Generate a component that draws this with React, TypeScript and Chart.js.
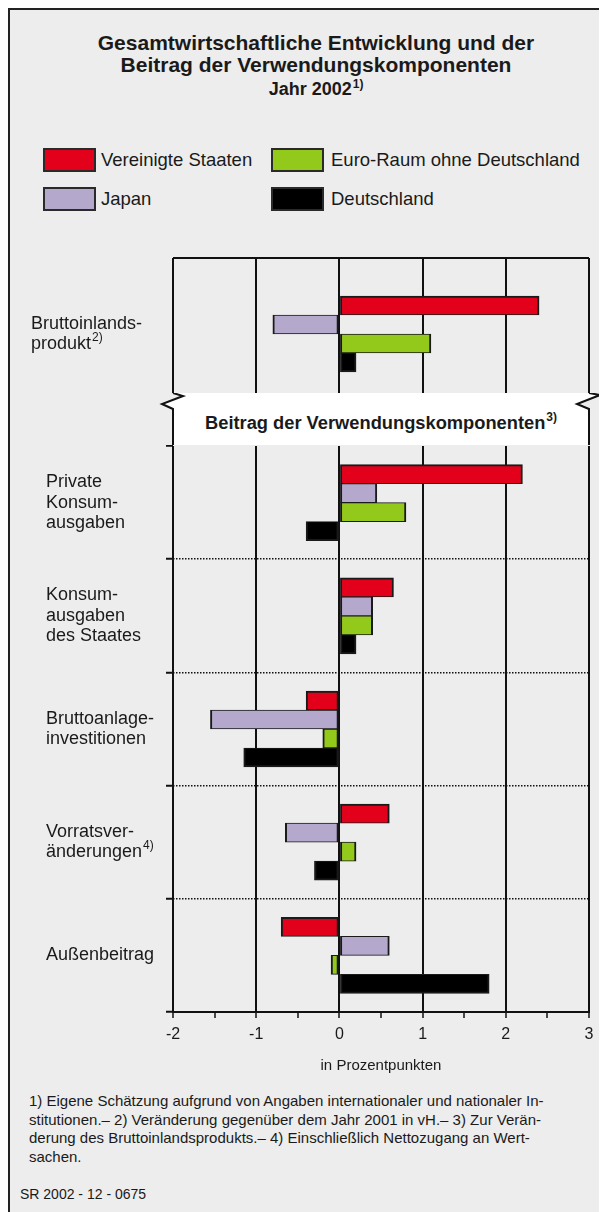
import React, { useEffect, useRef } from "react";
import { Chart, registerables } from "chart.js";

Chart.register(...registerables);

const FONT = '"Liberation Sans", Arial, Helvetica, sans-serif';
const TEXT = "#1a1a1a";
const LINE = "#111111";

// ---- data ----
const seriesNames = ["Vereinigte Staaten", "Japan", "Euro-Raum ohne Deutschland", "Deutschland"];
const seriesColors = ["#e2001a", "#b4a9cc", "#93c91b", "#000000"];

const gdpLabel = ["Bruttoinlands-", "produkt"];
const gdpNote = "2)";
const gdpValues = [2.4, -0.8, 1.1, 0.2]; // US, Japan, Euro-Raum, Deutschland

const componentLabels = [
  ["Private", "Konsum-", "ausgaben"],
  ["Konsum-", "ausgaben", "des Staates"],
  ["Bruttoanlage-", "investitionen"],
  ["Vorratsver-", "änderungen"],
  ["Außenbeitrag"],
];
const componentNotes = [null, null, null, "4)", null];
const usValues = [2.2, 0.65, -0.4, 0.6, -0.7];
const japanValues = [0.45, 0.4, -1.55, -0.65, 0.6];
const euroValues = [0.8, 0.4, -0.2, 0.2, -0.1];
const germanyValues = [-0.4, 0.2, -1.15, -0.3, 1.8];

const xMin = -2;
const xMax = 3;
const xTitle = "in Prozentpunkten";

const footnoteLines = [
  "1) Eigene Schätzung aufgrund von Angaben internationaler und nationaler In-",
  "stitutionen.– 2) Veränderung gegenüber dem Jahr 2001 in vH.– 3) Zur Verän-",
  "derung des Bruttoinlandsprodukts.– 4) Einschließlich Nettozugang an Wert-",
  "sachen.",
];
const sourceCode = "SR 2002 - 12 - 0675";

// ---- helpers ----
const OX = 10;
const OY = 10;

function borderFor(k: number, n: number) {
  return { top: k === 0 ? 2 : 1, bottom: k === n - 1 ? 2 : 1, left: 2, right: 2 };
}

function labelPlugin(labels: string[][], notes: (string | null)[], x: number) {
  return {
    id: "catLabels",
    afterDraw(chart: any) {
      const ctx = chart.ctx;
      const yScale = chart.scales.y;
      ctx.save();
      ctx.fillStyle = TEXT;
      ctx.textBaseline = "middle";
      ctx.textAlign = "left";
      const lh = 20.5;
      labels.forEach((lines, i) => {
        const cy = yScale.getPixelForValue(i);
        const n = lines.length;
        lines.forEach((line, j) => {
          const ly = cy + (j - (n - 1) / 2) * lh;
          ctx.font = `18px ${FONT}`;
          ctx.fillText(line, x, ly);
          const note = notes[i];
          if (j === n - 1 && note) {
            const w = ctx.measureText(line).width;
            ctx.font = `12px ${FONT}`;
            ctx.fillText(note, x + w + 1, ly - 7);
          }
        });
      });
      ctx.restore();
    },
  };
}

function makeDatasets(valuesPerSeries: number[][]) {
  return valuesPerSeries.map((vals, k) => ({
    label: seriesNames[k],
    data: vals,
    backgroundColor: seriesColors[k],
    borderColor: "#1a1a1a",
    borderWidth: borderFor(k, valuesPerSeries.length),
    borderSkipped: false,
    barThickness: 19,
  }));
}

const isInt = (v: any) => typeof v === "number" && Math.abs(v - Math.round(v)) < 1e-9;

export default function App() {
  const topRef = useRef<HTMLCanvasElement | null>(null);
  const botRef = useRef<HTMLCanvasElement | null>(null);

  useEffect(() => {
    Chart.defaults.font.family = FONT;
    const top = new Chart(topRef.current as HTMLCanvasElement, {
      type: "bar",
      data: {
        labels: ["BIP"],
        datasets: makeDatasets(gdpValues.map((v) => [v])) as any,
      },
      options: {
        indexAxis: "y",
        animation: false,
        responsive: false,
        maintainAspectRatio: false,
        layout: { padding: { top: 10, right: 18, bottom: 8, left: 0 } },
        plugins: { legend: { display: false }, tooltip: { enabled: false } },
        scales: {
          x: {
            type: "linear",
            min: xMin,
            max: xMax,
            ticks: { display: false, stepSize: 1 },
            grid: { color: LINE, lineWidth: 2, drawTicks: false },
            border: { display: false },
            afterFit: (s: any) => {
              s.height = 0;
            },
          },
          y: {
            type: "category",
            ticks: { display: false },
            grid: {
              offset: true,
              color: (c: any) => (c.index === 0 ? LINE : "rgba(0,0,0,0)"),
              lineWidth: 2,
              drawTicks: false,
            },
            border: { display: false },
            afterFit: (s: any) => {
              s.width = 163;
            },
          },
        },
      } as any,
      plugins: [labelPlugin([gdpLabel], [gdpNote], 21)],
    });

    const bottom = new Chart(botRef.current as HTMLCanvasElement, {
      type: "bar",
      data: {
        labels: componentLabels.map((l) => l.join(" ")),
        datasets: makeDatasets([usValues, japanValues, euroValues, germanyValues]) as any,
      },
      options: {
        indexAxis: "y",
        animation: false,
        responsive: false,
        maintainAspectRatio: false,
        layout: { padding: { top: 10, right: 18, bottom: 0, left: 0 } },
        plugins: { legend: { display: false }, tooltip: { enabled: false } },
        scales: {
          x: {
            type: "linear",
            min: xMin,
            max: xMax,
            ticks: {
              stepSize: 0.5,
              autoSkip: false,
              maxRotation: 0,
              padding: 7,
              color: TEXT,
              font: { family: FONT, size: 16 },
              callback: (v: any) => (isInt(v) ? String(Math.round(v)) : ""),
            },
            grid: {
              color: (c: any) => (c.tick && isInt(c.tick.value) ? LINE : "rgba(0,0,0,0)"),
              lineWidth: 2,
              tickColor: LINE,
              tickLength: 6,
              tickWidth: 1.5,
            },
            border: { display: true, color: LINE, width: 2 },
            title: {
              display: true,
              text: xTitle,
              color: TEXT,
              font: { family: FONT, size: 15 },
              padding: { top: 0, bottom: 11 },
            },
            afterFit: (s: any) => {
              s.height = 74;
            },
          },
          y: {
            type: "category",
            ticks: { display: false },
            grid: {
              offset: true,
              color: (c: any) => (c.index === 0 ? "rgba(0,0,0,0)" : LINE),
              lineWidth: 1.5,
              drawTicks: true,
              tickLength: 7,
              tickColor: LINE,
              tickWidth: 2,
            },
            border: { display: false, dash: [1.5, 1.5] },
            afterFit: (s: any) => {
              s.width = 163;
            },
          },
        },
      } as any,
      plugins: [labelPlugin(componentLabels, componentNotes, 36)],
    });

    return () => {
      top.destroy();
      bottom.destroy();
    };
  }, []);

  const abs = (x: number, y: number): React.CSSProperties => ({
    position: "absolute",
    left: x - OX,
    top: y - OY,
  });

  const swatch = (x: number, y: number, color: string) => (
    <div
      style={{
        ...abs(x, y),
        width: 53,
        height: 24,
        background: color,
        border: "2px solid #2a2a2a",
        boxSizing: "border-box",
      }}
    />
  );
  const legendText = (x: number, cy: number, text: string) => (
    <div style={{ ...abs(x, cy - 11), lineHeight: "22px", fontSize: 18.5, whiteSpace: "nowrap", color: TEXT }}>
      {text}
    </div>
  );

  const P = (x: number, y: number) => `${x - 150},${y - 393}`;
  const leftZig = [P(173, 393), P(183, 396), P(162, 404), P(173, 409), P(173, 446)].join(" ");
  const rightZig = [P(589, 393), P(600, 395), P(577, 404), P(589, 409), P(589, 446)].join(" ");
  const whitePoly = [
    P(173, 392),
    P(183, 396),
    P(162, 404),
    P(173, 409),
    P(173, 446),
    P(589, 446),
    P(589, 409),
    P(577, 404),
    P(600, 395),
    P(589, 392),
  ].join(" ");

  return (
    <div
      style={{
        position: "relative",
        width: 599,
        height: 1204,
        background: "#ededed",
        borderLeft: "2px solid #222",
        borderTop: "2px solid #222",
        boxSizing: "border-box",
        overflow: "hidden",
        fontFamily: FONT,
        color: TEXT,
      }}
    >
      <div
        style={{
          ...abs(16, 32),
          width: 600,
          textAlign: "center",
          fontWeight: "bold",
          fontSize: 21,
          lineHeight: "22px",
        }}
      >
        Gesamtwirtschaftliche Entwicklung und der
        <br />
        Beitrag der Verwendungskomponenten
      </div>
      <div
        style={{
          ...abs(16, 79),
          width: 600,
          textAlign: "center",
          fontWeight: "bold",
          fontSize: 18,
          lineHeight: "20px",
        }}
      >
        Jahr 2002
        <span style={{ fontSize: 12, position: "relative", top: -7, marginLeft: 1 }}>1)</span>
      </div>

      {swatch(43, 148, seriesColors[0])}
      {legendText(101, 160, seriesNames[0])}
      {swatch(271, 148, seriesColors[2])}
      {legendText(331, 160, seriesNames[2])}
      {swatch(43, 187, seriesColors[1])}
      {legendText(101, 199, seriesNames[1])}
      {swatch(271, 187, seriesColors[3])}
      {legendText(331, 199, seriesNames[3])}

      <canvas ref={topRef} width={597} height={170} style={{ ...abs(10, 248), display: "block" }} />
      <canvas ref={botRef} width={597} height={650} style={{ ...abs(10, 436), display: "block" }} />

      <svg width={457} height={52} style={{ ...abs(150, 393), display: "block" }}>
        <rect x={0} y={0} width={457} height={52} fill="#ededed" />
        <polygon points={whitePoly} fill="#ffffff" />
        <polyline points={leftZig} fill="none" stroke={LINE} strokeWidth={2} />
        <polyline points={rightZig} fill="none" stroke={LINE} strokeWidth={2} />
      </svg>
      <div
        style={{
          ...abs(181, 412),
          width: 400,
          textAlign: "center",
          fontWeight: "bold",
          fontSize: 18.3,
          lineHeight: "22px",
          whiteSpace: "nowrap",
        }}
      >
        Beitrag der Verwendungskomponenten
        <span style={{ fontSize: 12, position: "relative", top: -8, marginLeft: 1 }}>3)</span>
      </div>

      <div style={{ ...abs(29, 1092), fontSize: 15, lineHeight: "18.5px", whiteSpace: "nowrap" }}>
        {footnoteLines.map((l, i) => (
          <div key={i}>{l}</div>
        ))}
      </div>
      <div style={{ ...abs(20, 1185), fontSize: 14, lineHeight: "18px", whiteSpace: "nowrap" }}>{sourceCode}</div>
    </div>
  );
}
